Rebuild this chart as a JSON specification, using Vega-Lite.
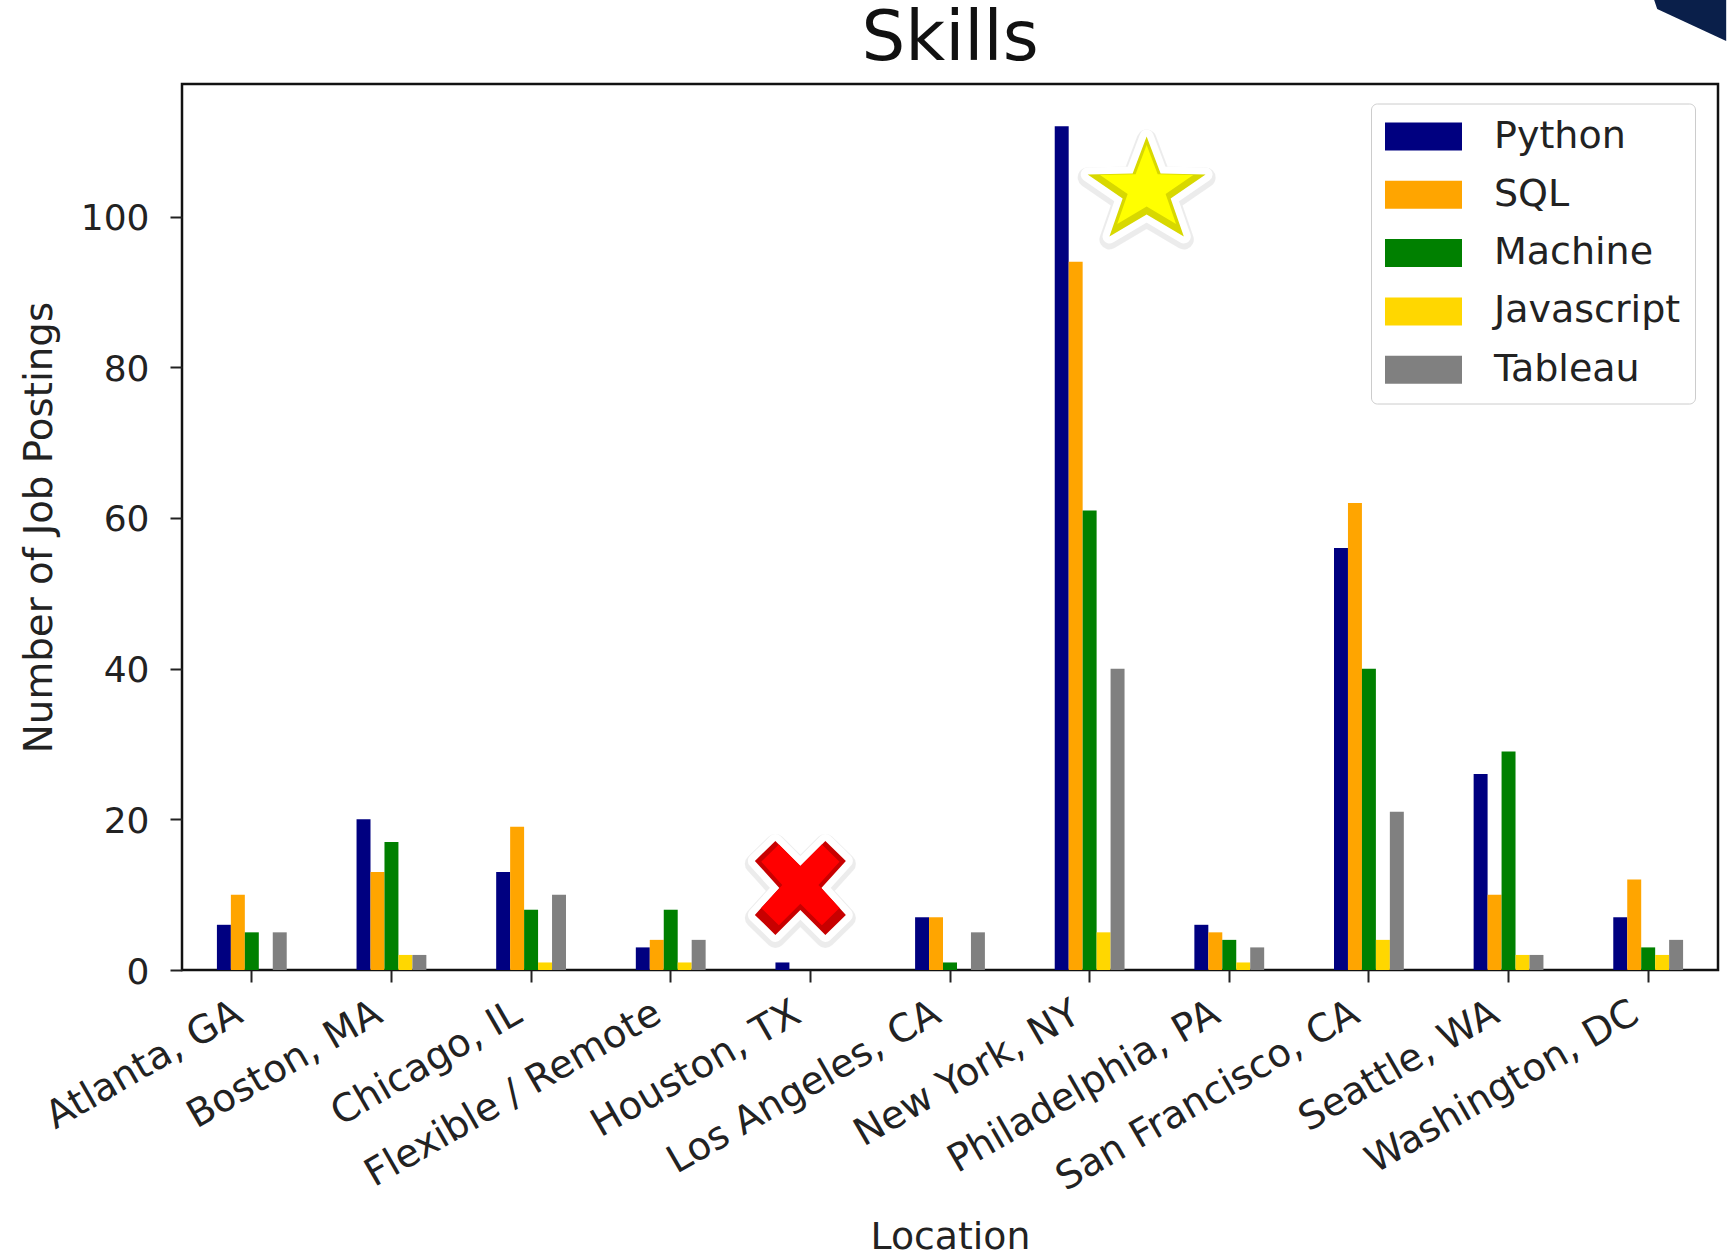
{"$schema":"https://vega.github.io/schema/vega-lite/v6.json","width":1536,"height":886,"autosize":{"type":"none"},"padding":{"left":182,"top":84,"right":9,"bottom":281},"background":"white","title":{"text":"Skills","font":"DejaVu Sans","fontSize":69,"fontWeight":"normal","color":"#111111","anchor":"middle","offset":-74},"config":{"view":{"stroke":"#111111","strokeWidth":2.5},"font":"DejaVu Sans"},"datasets":{"skills":[{"Location":"Atlanta, GA","Skill":"Python","Count":6},{"Location":"Atlanta, GA","Skill":"SQL","Count":10},{"Location":"Atlanta, GA","Skill":"Machine","Count":5},{"Location":"Atlanta, GA","Skill":"Javascript","Count":0},{"Location":"Atlanta, GA","Skill":"Tableau","Count":5},{"Location":"Boston, MA","Skill":"Python","Count":20},{"Location":"Boston, MA","Skill":"SQL","Count":13},{"Location":"Boston, MA","Skill":"Machine","Count":17},{"Location":"Boston, MA","Skill":"Javascript","Count":2},{"Location":"Boston, MA","Skill":"Tableau","Count":2},{"Location":"Chicago, IL","Skill":"Python","Count":13},{"Location":"Chicago, IL","Skill":"SQL","Count":19},{"Location":"Chicago, IL","Skill":"Machine","Count":8},{"Location":"Chicago, IL","Skill":"Javascript","Count":1},{"Location":"Chicago, IL","Skill":"Tableau","Count":10},{"Location":"Flexible / Remote","Skill":"Python","Count":3},{"Location":"Flexible / Remote","Skill":"SQL","Count":4},{"Location":"Flexible / Remote","Skill":"Machine","Count":8},{"Location":"Flexible / Remote","Skill":"Javascript","Count":1},{"Location":"Flexible / Remote","Skill":"Tableau","Count":4},{"Location":"Houston, TX","Skill":"Python","Count":1},{"Location":"Houston, TX","Skill":"SQL","Count":0},{"Location":"Houston, TX","Skill":"Machine","Count":0},{"Location":"Houston, TX","Skill":"Javascript","Count":0},{"Location":"Houston, TX","Skill":"Tableau","Count":0},{"Location":"Los Angeles, CA","Skill":"Python","Count":7},{"Location":"Los Angeles, CA","Skill":"SQL","Count":7},{"Location":"Los Angeles, CA","Skill":"Machine","Count":1},{"Location":"Los Angeles, CA","Skill":"Javascript","Count":0},{"Location":"Los Angeles, CA","Skill":"Tableau","Count":5},{"Location":"New York, NY","Skill":"Python","Count":112},{"Location":"New York, NY","Skill":"SQL","Count":94},{"Location":"New York, NY","Skill":"Machine","Count":61},{"Location":"New York, NY","Skill":"Javascript","Count":5},{"Location":"New York, NY","Skill":"Tableau","Count":40},{"Location":"Philadelphia, PA","Skill":"Python","Count":6},{"Location":"Philadelphia, PA","Skill":"SQL","Count":5},{"Location":"Philadelphia, PA","Skill":"Machine","Count":4},{"Location":"Philadelphia, PA","Skill":"Javascript","Count":1},{"Location":"Philadelphia, PA","Skill":"Tableau","Count":3},{"Location":"San Francisco, CA","Skill":"Python","Count":56},{"Location":"San Francisco, CA","Skill":"SQL","Count":62},{"Location":"San Francisco, CA","Skill":"Machine","Count":40},{"Location":"San Francisco, CA","Skill":"Javascript","Count":4},{"Location":"San Francisco, CA","Skill":"Tableau","Count":21},{"Location":"Seattle, WA","Skill":"Python","Count":26},{"Location":"Seattle, WA","Skill":"SQL","Count":10},{"Location":"Seattle, WA","Skill":"Machine","Count":29},{"Location":"Seattle, WA","Skill":"Javascript","Count":2},{"Location":"Seattle, WA","Skill":"Tableau","Count":2},{"Location":"Washington, DC","Skill":"Python","Count":7},{"Location":"Washington, DC","Skill":"SQL","Count":12},{"Location":"Washington, DC","Skill":"Machine","Count":3},{"Location":"Washington, DC","Skill":"Javascript","Count":2},{"Location":"Washington, DC","Skill":"Tableau","Count":4}],"star":[{"Location":"New York, NY","Count":104}],"cross":[{"Location":"Houston, TX","Count":10.9}],"corner":[{"Location":"Washington, DC","Count":117.6}]},"encoding":{"x":{"field":"Location","type":"nominal","sort":null,"scale":{"paddingInner":0,"paddingOuter":0},"axis":{"title":"Location","titleFontSize":37.8,"titleFont":"DejaVu Sans","titleFontWeight":"normal","titleColor":"#222222","titlePadding":48,"labelFontSize":38.5,"labelFont":"DejaVu Sans","labelColor":"#222222","labelAngle":-30,"labelAlign":"right","labelBaseline":"top","labelPadding":12,"labelOffset":-22,"labelLimit":600,"labelOverlap":false,"tickSize":12,"tickWidth":2,"tickColor":"#222222","domain":false,"grid":false}},"y":{"field":"Count","type":"quantitative","scale":{"domain":[0,117.6],"nice":false},"stack":null,"axis":{"title":"Number of Job Postings","titleFontSize":38.8,"titleFont":"DejaVu Sans","titleFontWeight":"normal","titleColor":"#222222","titlePadding":21,"labelFontSize":36,"labelFont":"DejaVu Sans","labelColor":"#222222","labelPadding":21,"labelOffset":2,"values":[0,20,40,60,80,100],"tickSize":12,"tickWidth":2,"tickColor":"#222222","domain":false,"grid":false}}},"layer":[{"data":{"name":"skills"},"mark":{"type":"bar"},"encoding":{"xOffset":{"field":"Skill","type":"nominal","scale":{"domain":["p1","p2","Python","SQL","Machine","Javascript","Tableau","p3","p4"],"paddingInner":0,"paddingOuter":0.5}},"color":{"field":"Skill","type":"nominal","scale":{"domain":["Python","SQL","Machine","Javascript","Tableau"],"range":["navy","orange","green","gold","gray"]},"legend":{"title":null,"orient":"none","legendX":1189,"legendY":19.5,"symbolType":"M-1,-0.364H1V0.364H-1Z","symbolSize":5929,"symbolStrokeWidth":0,"clipHeight":38,"rowPadding":20.3,"labelFontSize":38,"labelFont":"DejaVu Sans","labelColor":"#222222","labelOffset":32,"labelLimit":400,"padding":14,"fillColor":"white","strokeColor":"#cccccc","cornerRadius":6}}}},{"data":{"name":"star"},"mark":{"type":"point","shape":"M0,-.833L.233,-.217L.983,-.2L.4,.2L.62,.833L0,.467L-.62,.833L-.4,.2L-.983,-.2L-.233,-.217Z","size":14400,"filled":false,"stroke":"#000000","strokeOpacity":0.1,"strokeWidth":20,"strokeJoin":"round","xOffset":57,"yOffset":3}},{"data":{"name":"star"},"mark":{"type":"point","shape":"M0,-.833L.233,-.217L.983,-.2L.4,.2L.62,.833L0,.467L-.62,.833L-.4,.2L-.983,-.2L-.233,-.217Z","size":14400,"filled":true,"fill":"#d8d800","fillOpacity":1,"stroke":"white","strokeWidth":14,"strokeJoin":"round","xOffset":57}},{"data":{"name":"star"},"mark":{"type":"point","shape":"M0,-.833L.233,-.217L.983,-.2L.4,.2L.62,.833L0,.467L-.62,.833L-.4,.2L-.983,-.2L-.233,-.217Z","size":14400,"filled":true,"fill":"#d8d800","fillOpacity":1,"strokeWidth":0,"xOffset":57}},{"data":{"name":"star"},"mark":{"type":"point","shape":"M0,-.833L.233,-.217L.983,-.2L.4,.2L.62,.833L0,.467L-.62,.833L-.4,.2L-.983,-.2L-.233,-.217Z","size":9000,"filled":true,"fill":"#ffff00","fillOpacity":1,"strokeWidth":0,"xOffset":57,"yOffset":-2}},{"data":{"name":"cross"},"mark":{"type":"point","shape":"M0,-.44L.5,-.94L.91,-.54L.42,0L.91,.54L.5,.94L0,.44L-.5,.94L-.91,.54L-.42,0L-.91,-.54L-.5,-.94Z","size":10000,"filled":false,"stroke":"#000000","strokeOpacity":0.1,"strokeWidth":20,"strokeJoin":"round","xOffset":-10,"yOffset":3}},{"data":{"name":"cross"},"mark":{"type":"point","shape":"M0,-.44L.5,-.94L.91,-.54L.42,0L.91,.54L.5,.94L0,.44L-.5,.94L-.91,.54L-.42,0L-.91,-.54L-.5,-.94Z","size":10000,"filled":true,"fill":"#c80000","fillOpacity":1,"stroke":"white","strokeWidth":14,"strokeJoin":"round","xOffset":-10}},{"data":{"name":"cross"},"mark":{"type":"point","shape":"M0,-.44L.5,-.94L.91,-.54L.42,0L.91,.54L.5,.94L0,.44L-.5,.94L-.91,.54L-.42,0L-.91,-.54L-.5,-.94Z","size":10000,"filled":true,"fill":"#c80000","fillOpacity":1,"strokeWidth":0,"xOffset":-10}},{"data":{"name":"cross"},"mark":{"type":"point","shape":"M0,-.44L.5,-.94L.91,-.54L.42,0L.91,.54L.5,.94L0,.44L-.5,.94L-.91,.54L-.42,0L-.91,-.54L-.5,-.94Z","size":7400,"filled":true,"fill":"#ff0000","fillOpacity":1,"strokeWidth":0,"xOffset":-10,"yOffset":-3}},{"data":{"name":"corner"},"mark":{"type":"point","shape":"M.12,-1.68L.18,-1.5L1.56,-.86L1.56,-1.68Z","size":10000,"filled":true,"fill":"#0a1f4a","fillOpacity":1,"strokeWidth":0,"clip":false}}]}
